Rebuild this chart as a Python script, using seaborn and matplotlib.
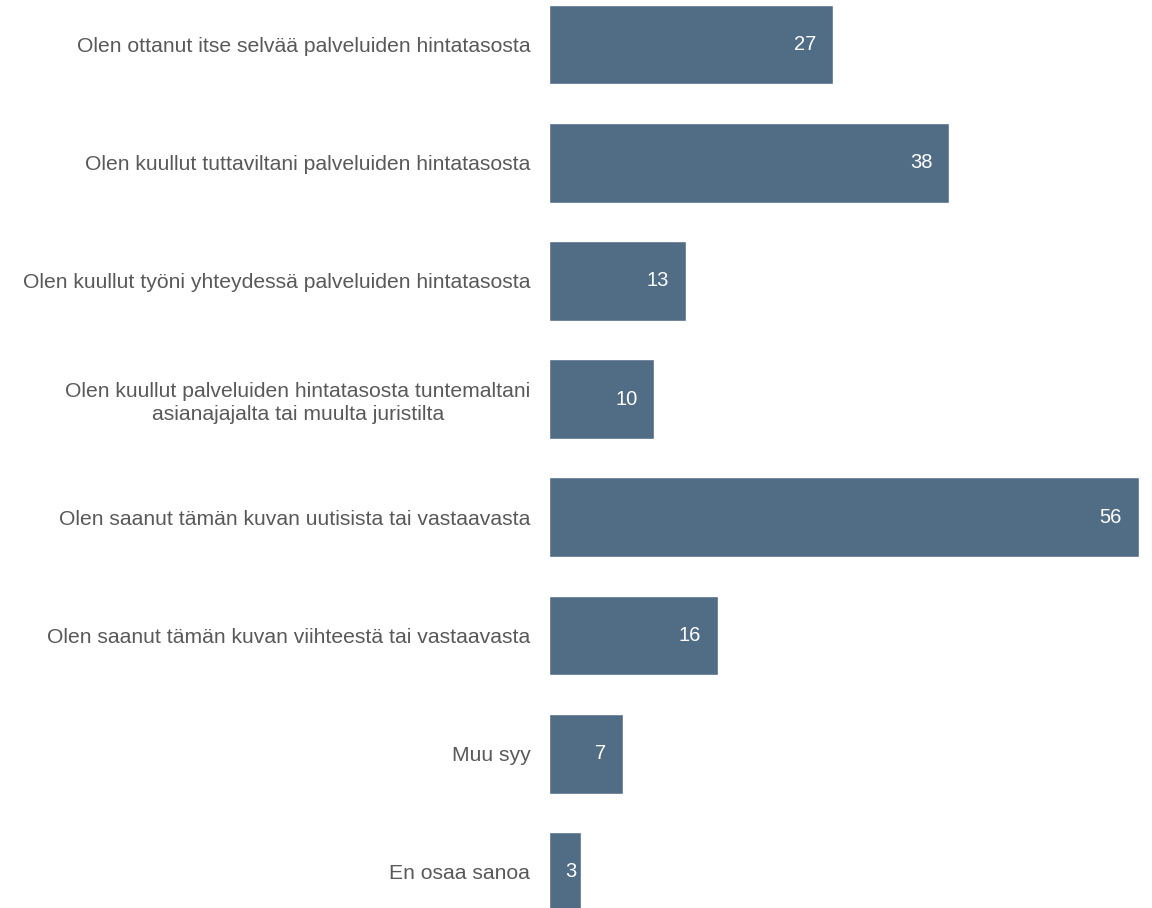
import matplotlib
matplotlib.use("Agg")
import matplotlib.pyplot as plt
import seaborn as sns
import pandas as pd

categories = [
    "Olen ottanut itse selvää palveluiden hintatasosta",
    "Olen kuullut tuttaviltani palveluiden hintatasosta",
    "Olen kuullut työni yhteydessä palveluiden hintatasosta",
    "Olen kuullut palveluiden hintatasosta tuntemaltani\nasianajajalta tai muulta juristilta",
    "Olen saanut tämän kuvan uutisista tai vastaavasta",
    "Olen saanut tämän kuvan viihteestä tai vastaavasta",
    "Muu syy",
    "En osaa sanoa",
]
values = [27, 38, 13, 10, 56, 16, 7, 3]

sns.set_theme(style="white")
plt.rcParams['font.family'] = ['Liberation Sans', 'DejaVu Sans']

df = pd.DataFrame({"cat": categories, "val": values})

fig = plt.figure(figsize=(11.52, 9.08), dpi=100)
ax = fig.add_axes([549/1152, 0, 1 - 549/1152, 1])

bar_color = "#516c85"
sns.barplot(data=df, y="cat", x="val", orient="h", color=bar_color,
            width=0.675, saturation=1, ax=ax)

ax.set_xlim(0, 56 + 13/10.536)
ax.set_ylim(7.305, -0.376)
ax.set_xlabel("")
ax.set_ylabel("")
ax.set_xticks([])
for s in ax.spines.values():
    s.set_visible(False)
ax.tick_params(axis="y", length=0, pad=13.5, labelsize=15.2, labelcolor="#595959")
for t in ax.get_yticklabels():
    t.set_multialignment("center")
    t.set_linespacing(1.25)

px_per_unit = 10.536
for i, v in enumerate(values):
    if v * px_per_unit < 45:
        ax.annotate(str(v), xy=(0, i), xytext=(11.5, 0), textcoords="offset points",
                    ha="left", va="center", color="white", fontsize=14.5)
    else:
        ax.annotate(str(v), xy=(v, i), xytext=(-12.2, 0), textcoords="offset points",
                    ha="right", va="center", color="white", fontsize=14.5)

fig.savefig("out.png", dpi=100, facecolor="white")
